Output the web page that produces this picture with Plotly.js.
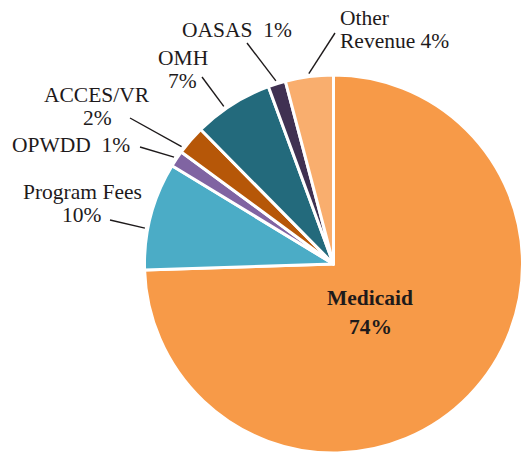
<!DOCTYPE html>
<html>
<head>
<meta charset="utf-8">
<script src="https://cdn.plot.ly/plotly-3.0.1.min.js"></script>
<style>
  html, body { margin: 0; padding: 0; background: #ffffff; }
  #chart { width: 529px; height: 453px; }
</style>
</head>
<body>
<div id="chart"></div>
<script>
// ---- Data ----
const categories = ['Medicaid', 'Program Fees', 'OPWDD', 'ACCES/VR', 'OMH', 'OASAS', 'Other Revenue'];
const shares     = [74.5, 9.2, 1.4, 2.5, 6.8, 1.5, 4.1];
const pctLabels  = ['74%', '10%', '1%', '2%', '7%', '1%', '4%'];
const colors     = ['#F79A48', '#4BACC6', '#8064A2', '#B65708', '#236A7C', '#403152', '#F9AE6E'];

// ---- Layout / styling ----
const W = 529, H = 453;
const cx = 333.5, cy = 264, R = 189;
const TXT = '#1E1A1B';
const FONT = "'Liberation Serif', 'DejaVu Serif', serif";
const FS = 21.5;
const LINE_GAP = 23;

// label placement: how the label text is wrapped, where its first line sits, where the leader starts
// frac: position of leader start inside the slice (0..1 of its angle); end: leader outer end (px)
const placement = [
  {mode: 'stack',  x: 370, y: 298, anchor: 'center', bold: true, gap: 29, leader: null},
  {mode: 'stack',  x: 82,  y: 192, anchor: 'center', leader: {frac: 0.38, end: [110, 220]}},
  {mode: 'inline', x: 71,  y: 145, anchor: 'center', leader: {frac: 0.5,  end: [140, 147]}},
  {mode: 'stack',  x: 97,  y: 95,  anchor: 'center', leader: {frac: 0.15, end: [130, 118]}},
  {mode: 'stack',  x: 183, y: 58,  anchor: 'center', leader: {frac: 0.4,  end: [202, 77]}},
  {mode: 'inline', x: 237, y: 30,  anchor: 'center', leader: {frac: 0.5,  end: [247, 43]}},
  {mode: 'wrap1',  x: 338, y: 18,  anchor: 'left',   leader: {frac: 0.5,  end: [335, 33]}}
];

const px = x => x / W;
const py = y => 1 - y / H;

const total = shares.reduce((a, b) => a + b, 0);
let cum = 0;
const shapes = [];
const annotations = [];

categories.forEach((name, i) => {
  const startDeg = cum / total * 360;
  cum += shares[i];
  const endDeg = cum / total * 360;
  const p = placement[i];

  let lines;
  if (p.mode === 'stack') lines = [name, pctLabels[i]];
  else if (p.mode === 'inline') lines = [name + '\u00a0\u00a0' + pctLabels[i]];
  else {
    const words = name.split(' ');
    lines = [words[0], words.slice(1).join(' ') + ' ' + pctLabels[i]];
  }
  const gap = p.gap || LINE_GAP;
  lines.forEach((t, k) => {
    annotations.push({
      xref: 'paper', yref: 'paper',
      x: px(p.x), y: py(p.y + k * gap),
      xanchor: p.anchor, yanchor: 'middle',
      text: p.bold ? '<b>' + t + '</b>' : t,
      showarrow: false,
      font: {family: FONT, size: FS, color: TXT}
    });
  });

  if (p.leader) {
    const a = (startDeg + (endDeg - startDeg) * p.leader.frac) * Math.PI / 180;
    const r0 = R + 3;
    const x0 = cx + r0 * Math.sin(a);
    const y0 = cy - r0 * Math.cos(a);
    shapes.push({
      type: 'line', xref: 'paper', yref: 'paper',
      x0: px(x0), y0: py(y0), x1: px(p.leader.end[0]), y1: py(p.leader.end[1]),
      line: {color: TXT, width: 1.4}
    });
  }
});

const trace = {
  type: 'pie',
  labels: categories,
  values: shares,
  sort: false,
  direction: 'clockwise',
  rotation: 0,
  textinfo: 'none',
  hoverinfo: 'skip',
  showlegend: false,
  marker: {colors: colors, line: {color: '#ffffff', width: 3}},
  domain: {x: [(cx - R) / W, (cx + R) / W], y: [(H - cy - R) / H, (H - cy + R) / H]}
};

const layout = {
  width: W, height: H,
  margin: {l: 0, r: 0, t: 0, b: 0},
  paper_bgcolor: '#ffffff',
  plot_bgcolor: '#ffffff',
  showlegend: false,
  shapes: shapes,
  annotations: annotations,
  font: {family: FONT, color: TXT}
};

Plotly.newPlot('chart', [trace], layout, {staticPlot: true, displayModeBar: false});
</script>
</body>
</html>
